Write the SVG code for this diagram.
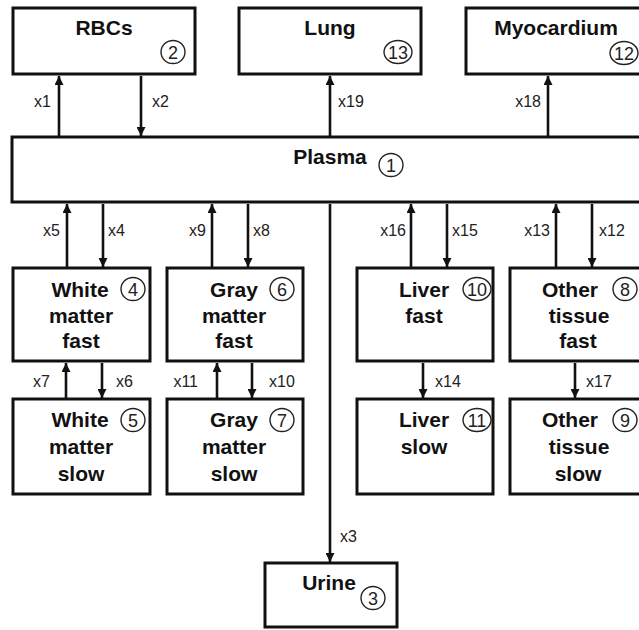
<svg xmlns="http://www.w3.org/2000/svg" width="639" height="630" viewBox="0 0 639 630">
<style>
.box{fill:#fff;stroke:#111;stroke-width:3}
.t{font-family:"Liberation Sans",Arial,sans-serif;font-weight:bold;font-size:21px;fill:#111;text-anchor:middle}
.n{font-family:"Liberation Sans",Arial,sans-serif;font-size:18px;fill:#222;text-anchor:middle}
.c{fill:none;stroke:#222;stroke-width:1.4}
.a{stroke:#111;stroke-width:2.6;fill:none;marker-end:url(#ah)}
.l{font-family:"Liberation Sans",Arial,sans-serif;font-size:16px;fill:#222}
</style>
<defs>
<marker id="ah" viewBox="0 0 10 10" refX="10" refY="5" markerWidth="11" markerHeight="9" markerUnits="userSpaceOnUse" orient="auto">
<path d="M0,0 L10,5 L0,10 z" fill="#111"/>
</marker>
</defs>
<g id="rbcs"><rect class="box" x="13" y="8" width="182" height="66"/><text class="t" x="104" y="35">RBCs</text><ellipse class="c" cx="173" cy="52" rx="12" ry="11.5"/><text class="n" x="173" y="58.5">2</text></g>
<g id="lung"><rect class="box" x="239" y="8" width="182" height="66"/><text class="t" x="330" y="35">Lung</text><ellipse class="c" cx="398" cy="52" rx="14" ry="11.5"/><text class="n" x="398" y="58.5">13</text></g>
<g id="myocardium"><rect class="box" x="466" y="8" width="200" height="66"/><text class="t" x="556" y="35">Myocardium</text><ellipse class="c" cx="624" cy="53" rx="14" ry="11.5"/><text class="n" x="624" y="59.5">12</text></g>
<g id="plasma"><rect class="box" x="12" y="137" width="650" height="65"/><text class="t" x="330" y="164">Plasma</text><ellipse class="c" cx="391" cy="165" rx="12" ry="11.5"/><text class="n" x="391" y="171.5">1</text></g>
<g id="wmf"><rect class="box" x="13" y="268" width="137" height="93"/><text class="t" x="80" y="297">White</text><text class="t" x="81" y="323">matter</text><text class="t" x="81" y="348">fast</text><ellipse class="c" cx="133" cy="289" rx="12" ry="11.5"/><text class="n" x="133" y="295.5">4</text></g>
<g id="gmf"><rect class="box" x="167" y="268" width="136" height="93"/><text class="t" x="234" y="297">Gray</text><text class="t" x="234" y="323">matter</text><text class="t" x="234" y="348">fast</text><ellipse class="c" cx="282" cy="289" rx="12" ry="11.5"/><text class="n" x="282" y="295.5">6</text></g>
<g id="lf"><rect class="box" x="357" y="268" width="136" height="93"/><text class="t" x="424" y="297">Liver</text><text class="t" x="424" y="323">fast</text><ellipse class="c" cx="477" cy="289" rx="14" ry="11.5"/><text class="n" x="477" y="295.5">10</text></g>
<g id="otf"><rect class="box" x="510" y="268" width="150" height="93"/><text class="t" x="570" y="297">Other</text><text class="t" x="579" y="323">tissue</text><text class="t" x="578" y="348">fast</text><ellipse class="c" cx="625" cy="289" rx="12" ry="11.5"/><text class="n" x="625" y="295.5">8</text></g>
<g id="wms"><rect class="box" x="13" y="399" width="137" height="95"/><text class="t" x="80" y="427">White</text><text class="t" x="81" y="454">matter</text><text class="t" x="81" y="481">slow</text><ellipse class="c" cx="133" cy="420" rx="12" ry="11.5"/><text class="n" x="133" y="426.5">5</text></g>
<g id="gms"><rect class="box" x="167" y="399" width="136" height="95"/><text class="t" x="234" y="427">Gray</text><text class="t" x="234" y="454">matter</text><text class="t" x="234" y="481">slow</text><ellipse class="c" cx="282" cy="420" rx="12" ry="11.5"/><text class="n" x="282" y="426.5">7</text></g>
<g id="ls"><rect class="box" x="357" y="399" width="136" height="95"/><text class="t" x="424" y="427">Liver</text><text class="t" x="424" y="454">slow</text><ellipse class="c" cx="477" cy="420" rx="14" ry="11.5"/><text class="n" x="477" y="426.5">11</text></g>
<g id="ots"><rect class="box" x="510" y="399" width="150" height="95"/><text class="t" x="570" y="427">Other</text><text class="t" x="579" y="454">tissue</text><text class="t" x="578" y="481">slow</text><ellipse class="c" cx="625" cy="420" rx="12" ry="11.5"/><text class="n" x="625" y="426.5">9</text></g>
<g id="urine"><rect class="box" x="265" y="563" width="132" height="64"/><text class="t" x="329" y="590">Urine</text><ellipse class="c" cx="373" cy="598" rx="12" ry="11.5"/><text class="n" x="373" y="604.5">3</text></g>
<g id="connectors">
<line class="a" x1="59" y1="136" x2="59" y2="76"/>
<line class="a" x1="141" y1="76" x2="141" y2="136"/>
<line class="a" x1="330" y1="136" x2="330" y2="76"/>
<line class="a" x1="548" y1="136" x2="548" y2="76"/>
<line class="a" x1="67" y1="267" x2="67" y2="204"/>
<line class="a" x1="103" y1="204" x2="103" y2="267"/>
<line class="a" x1="212" y1="267" x2="212" y2="204"/>
<line class="a" x1="248" y1="204" x2="248" y2="267"/>
<line class="a" x1="411" y1="267" x2="411" y2="204"/>
<line class="a" x1="447" y1="204" x2="447" y2="267"/>
<line class="a" x1="556" y1="267" x2="556" y2="204"/>
<line class="a" x1="592" y1="204" x2="592" y2="267"/>
<line class="a" x1="66" y1="398" x2="66" y2="363"/>
<line class="a" x1="102" y1="363" x2="102" y2="398"/>
<line class="a" x1="217" y1="398" x2="217" y2="363"/>
<line class="a" x1="252" y1="363" x2="252" y2="398"/>
<line class="a" x1="423" y1="363" x2="423" y2="398"/>
<line class="a" x1="575" y1="363" x2="575" y2="398"/>
<line class="a" x1="330" y1="204" x2="330" y2="562"/>
<text class="l" x="51" y="107" text-anchor="end">x1</text>
<text class="l" x="152" y="107">x2</text>
<text class="l" x="338" y="107">x19</text>
<text class="l" x="541" y="107" text-anchor="end">x18</text>
<text class="l" x="60" y="236" text-anchor="end">x5</text>
<text class="l" x="108" y="236">x4</text>
<text class="l" x="206" y="236" text-anchor="end">x9</text>
<text class="l" x="253" y="236">x8</text>
<text class="l" x="406" y="236" text-anchor="end">x16</text>
<text class="l" x="452" y="236">x15</text>
<text class="l" x="550" y="236" text-anchor="end">x13</text>
<text class="l" x="599" y="236">x12</text>
<text class="l" x="50" y="387" text-anchor="end">x7</text>
<text class="l" x="116" y="387">x6</text>
<text class="l" x="198" y="387" text-anchor="end">x11</text>
<text class="l" x="269" y="387">x10</text>
<text class="l" x="435" y="387">x14</text>
<text class="l" x="586" y="387">x17</text>
<text class="l" x="340" y="542">x3</text>
</g>
</svg>
